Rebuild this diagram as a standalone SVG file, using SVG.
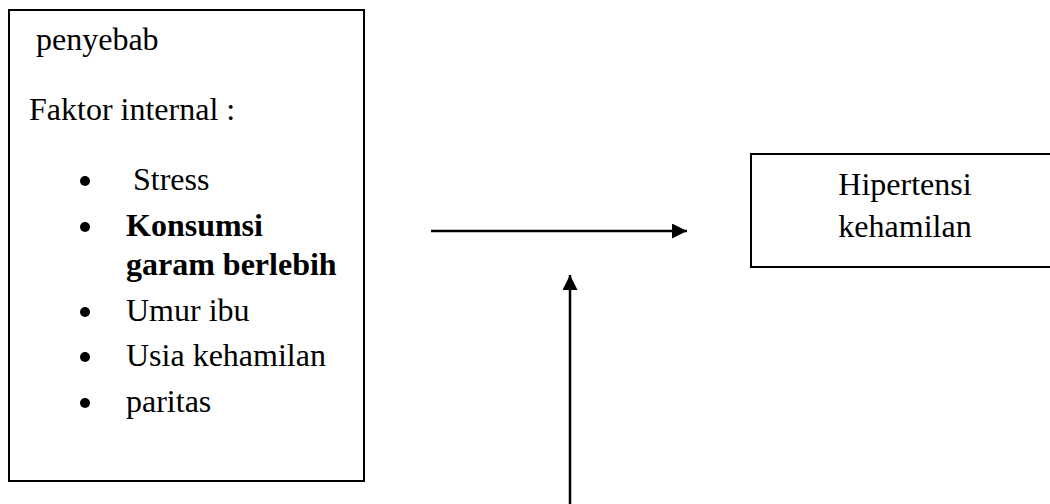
<svg xmlns="http://www.w3.org/2000/svg" width="1050" height="504" viewBox="0 0 1050 504">
  <style>
    .box { fill: #ffffff; stroke: #000000; stroke-width: 2; }
    .t { font-family: "Liberation Serif", "Times New Roman", serif; font-size: 32px; fill: #000000; }
    .b { font-weight: bold; }
    .mid { text-anchor: middle; }
    .conn { stroke: #000000; stroke-width: 2.5; fill: none; }
    .dot { fill: #000000; }
  </style>
  <defs>
    <marker id="arrow" markerUnits="userSpaceOnUse" markerWidth="16" markerHeight="16" refX="15" refY="7.5" orient="auto">
      <path d="M0,0 L15,7.5 L0,15 Z" fill="#000000"/>
    </marker>
  </defs>
  <rect width="1050" height="504" fill="#ffffff"/>

  <g id="node-penyebab">
    <rect class="box" x="9" y="10" width="355" height="471"/>
    <text class="t" x="36" y="50">penyebab</text>
    <text class="t" x="29" y="120">Faktor internal :</text>
    <circle class="dot" cx="85" cy="181" r="5"/>
    <text class="t" x="133" y="190">Stress</text>
    <circle class="dot" cx="85" cy="227" r="5"/>
    <text class="t b" x="126" y="236">Konsumsi</text>
    <text class="t b" x="126" y="275">garam berlebih</text>
    <circle class="dot" cx="85" cy="312" r="5"/>
    <text class="t" x="126" y="321">Umur ibu</text>
    <circle class="dot" cx="85" cy="357" r="5"/>
    <text class="t" x="126" y="366">Usia kehamilan</text>
    <circle class="dot" cx="85" cy="403" r="5"/>
    <text class="t" x="126" y="412">paritas</text>
  </g>

  <g id="node-hipertensi">
    <rect class="box" x="751" y="154" width="320" height="113"/>
    <text class="t mid" x="905" y="195">Hipertensi</text>
    <text class="t mid" x="905" y="237">kehamilan</text>
  </g>

  <g id="connectors">
    <line class="conn" x1="431" y1="231" x2="687" y2="231" marker-end="url(#arrow)"/>
    <line class="conn" x1="570" y1="510" x2="570" y2="275" marker-end="url(#arrow)"/>
  </g>
</svg>
